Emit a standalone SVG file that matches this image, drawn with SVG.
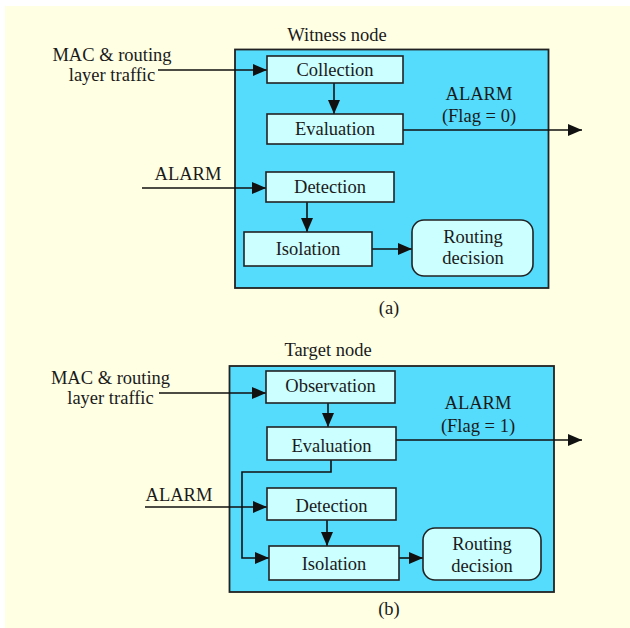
<svg xmlns="http://www.w3.org/2000/svg" width="630" height="628" viewBox="0 0 630 628" font-family="'Liberation Serif', 'Times New Roman', Times, serif">
<defs>
<style>
text{font-family:'Liberation Serif','Times New Roman',Times,serif;font-size:18.5px;fill:#1a1a1a;text-anchor:middle}
.outer{fill:#55dcfc;stroke:#222;stroke-width:1.8}
.box{fill:#ccffff;stroke:#222;stroke-width:1.6}
.ln{fill:none;stroke:#111;stroke-width:1.6}
.arr{marker-end:url(#ah)}
</style>
<marker id="ah" viewBox="0 0 14 12" refX="14" refY="6" markerWidth="14" markerHeight="12" markerUnits="userSpaceOnUse" orient="auto">
<path d="M0,0L14,6L0,12Z" fill="#111"/>
</marker>
</defs>
<rect x="5" y="6" width="625" height="622" fill="#ffffe4"/>

<g id="panel-a">
<rect class="outer" x="235" y="49.5" width="313.5" height="238.5"/>
<text x="337" y="41">Witness node</text>
<text x="389" y="314">(a)</text>
</g>
<g id="panel-b">
<rect class="outer" x="229.5" y="366" width="324.5" height="226"/>
<text x="328" y="356">Target node</text>
<text x="389" y="615">(b)</text>
</g>

<g id="connectors">
<line class="ln arr" x1="158" y1="70" x2="267" y2="70"/>
<line class="ln arr" x1="334" y1="83" x2="334" y2="114"/>
<line class="ln arr" x1="403" y1="130" x2="582" y2="130"/>
<line class="ln arr" x1="142" y1="188" x2="266" y2="188"/>
<line class="ln arr" x1="307" y1="202" x2="307" y2="232"/>
<line class="ln arr" x1="370" y1="249" x2="412" y2="249"/>

<line class="ln arr" x1="159" y1="393" x2="266" y2="393"/>
<line class="ln arr" x1="328" y1="403" x2="328" y2="427"/>
<line class="ln arr" x1="396" y1="440" x2="582" y2="440"/>
<line class="ln arr" x1="145" y1="507" x2="267" y2="507"/>
<line class="ln arr" x1="327" y1="520" x2="327" y2="546"/>
<line class="ln arr" x1="399" y1="558" x2="423" y2="558"/>
<polyline class="ln arr" points="331,460 331,472 242,472 242,558 269,558"/>
</g>

<g id="in-a-mac"><text x="112" y="61">MAC &amp; routing</text><text x="112" y="81">layer traffic</text></g>
<g id="in-a-alarm"><text x="188" y="180">ALARM</text></g>
<g id="out-a-alarm"><text x="479" y="100">ALARM</text><text x="479" y="122">(Flag = 0)</text></g>

<g id="collection"><rect class="box" x="267" y="56" width="136" height="27"/><text x="335" y="76">Collection</text></g>
<g id="evaluation-a"><rect class="box" x="267" y="114" width="136" height="30"/><text x="335" y="135">Evaluation</text></g>
<g id="detection-a"><rect class="box" x="266" y="172" width="128" height="30"/><text x="330" y="193">Detection</text></g>
<g id="isolation-a"><rect class="box" x="244" y="232" width="128" height="34"/><text x="308" y="255">Isolation</text></g>
<g id="routing-a"><rect class="box" x="412" y="220" width="121" height="56" rx="12"/><text x="473" y="243">Routing</text><text x="473" y="264">decision</text></g>

<g id="in-b-mac"><text x="110.5" y="384">MAC &amp; routing</text><text x="110.5" y="404">layer traffic</text></g>
<g id="in-b-alarm"><text x="179" y="501">ALARM</text></g>
<g id="out-b-alarm"><text x="478" y="409">ALARM</text><text x="478" y="432">(Flag = 1)</text></g>

<g id="observation"><rect class="box" x="266" y="371" width="129" height="32"/><text x="330.5" y="392">Observation</text></g>
<g id="evaluation-b"><rect class="box" x="267" y="427" width="129" height="33"/><text x="331.5" y="452">Evaluation</text></g>
<g id="detection-b"><rect class="box" x="267" y="488" width="129" height="32"/><text x="331.5" y="512">Detection</text></g>
<g id="isolation-b"><rect class="box" x="269" y="546" width="130" height="34"/><text x="334" y="570">Isolation</text></g>
<g id="routing-b"><rect class="box" x="423" y="528" width="118" height="52" rx="12"/><text x="482" y="550">Routing</text><text x="482" y="572">decision</text></g>
</svg>
